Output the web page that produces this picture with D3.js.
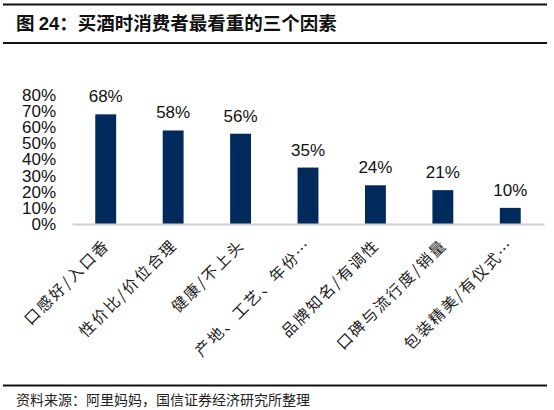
<!DOCTYPE html>
<html lang="zh">
<head>
<meta charset="utf-8">
<title>买酒时消费者最看重的三个因素</title>
<script src="https://d3js.org/d3.v7.min.js"></script>
<style>
    body { margin: 0; background: #fff; }
</style>
</head>
<body>
<svg id="chart"></svg>
<script>
    // data
    let factors = ["口感好/入口香", "性价比/价位合理", "健康/不上头", "产地、工艺、年份…",
        "品牌知名/有调性", "口碑与流行度/销量", "包装精美/有仪式…"];
    let shares = [68, 58, 56, 35, 24, 21, 10];
    let yTicks = [0, 10, 20, 30, 40, 50, 60, 70, 80];

    let W = 554, H = 410;
    let cjk = "'Noto Sans CJK SC', sans-serif";
    let latin = "'Liberation Sans', Arial, sans-serif";

    let svg = d3.select("#chart").attr("width", W).attr("height", H);

    // frame lines
    svg.append("line").attr("x1", 3).attr("x2", 547).attr("y1", 4.5).attr("y2", 4.5)
        .attr("stroke", "#111").attr("stroke-width", 2);
    svg.append("line").attr("x1", 3).attr("x2", 547).attr("y1", 43).attr("y2", 43)
        .attr("stroke", "#111").attr("stroke-width", 2);
    svg.append("line").attr("x1", 3).attr("x2", 547).attr("y1", 385.5).attr("y2", 385.5)
        .attr("stroke", "#111").attr("stroke-width", 2);

    // title
    let title = svg.append("text").attr("x", 16).attr("y", 30)
        .style("font-family", cjk).style("font-weight", "bold")
        .style("font-size", "18.5px").attr("fill", "#111");
    title.append("tspan").text("图 ");
    title.append("tspan").style("font-family", latin).text("24");
    title.append("tspan").text("：买酒时消费者最看重的三个因素");

    // source
    svg.append("text").attr("x", 16).attr("y", 405)
        .style("font-family", cjk).style("font-size", "14px").attr("fill", "#222")
        .text("资料来源：阿里妈妈，国信证券经济研究所整理");

    // scales
    let x = d3.scaleBand().domain(factors).range([72, 544]).paddingInner(0.69).paddingOuter(0.345);
    let y = d3.scaleLinear().domain([0, 80]).range([224, 95]);

    // y axis (labels only)
    let yAxis = d3.axisLeft(y).tickValues(yTicks).tickSize(0).tickPadding(0)
        .tickFormat(d => d + "%");
    let yg = svg.append("g").attr("transform", "translate(56,0)").call(yAxis);
    yg.select(".domain").remove();
    yg.selectAll("text").style("font-family", latin).style("font-size", "17px")
        .attr("fill", "#111");

    // bars
    svg.selectAll("rect.bar").data(shares).enter().append("rect")
        .attr("class", "bar")
        .attr("x", (d, i) => x(factors[i]))
        .attr("y", d => y(d))
        .attr("width", x.bandwidth())
        .attr("height", d => y(0) - y(d))
        .attr("fill", "#002a5c");

    // value labels
    svg.selectAll("text.val").data(shares).enter().append("text")
        .attr("class", "val")
        .attr("x", (d, i) => x(factors[i]) + x.bandwidth() / 2)
        .attr("y", d => y(d) - 12)
        .attr("text-anchor", "middle")
        .style("font-family", latin).style("font-size", "17px").attr("fill", "#111")
        .text(d => d + "%");

    // x axis
    let xAxis = d3.axisBottom(x).tickSize(0).tickPadding(0);
    let xg = svg.append("g").attr("transform", "translate(0," + y(0) + ")").call(xAxis);
    xg.select(".domain").attr("stroke", "#d0d0d0").attr("stroke-width", 2);
    xg.selectAll("text")
        .style("font-family", cjk).style("font-size", "15.5px").attr("fill", "#222")
        .style("letter-spacing", "2px")
        .attr("text-anchor", "end")
        .attr("dy", null)
        .attr("transform", "translate(5,22) rotate(-45)");
</script>
</body>
</html>
